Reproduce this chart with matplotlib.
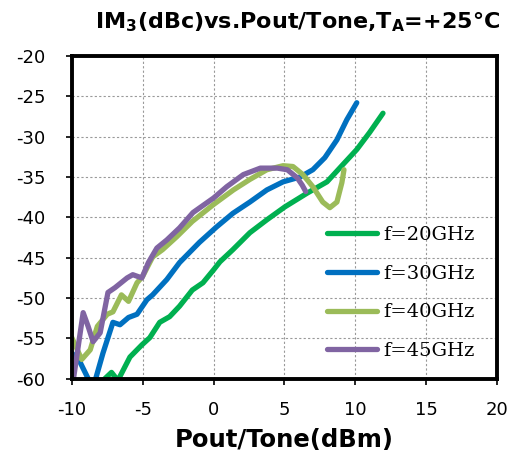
import matplotlib
matplotlib.use("Agg")
import matplotlib.pyplot as plt

plt.rcParams["axes.unicode_minus"] = False

# f = 20 GHz
x20 = [-7.8, -7.2, -6.75, -5.9, -5.06, -4.5, -3.8, -3.1, -2.4, -1.5, -0.75, 0.0, 0.45, 1.36, 2.56, 3.76, 5.03, 6.6, 8.0, 9.1, 10.1, 11.0, 11.95]
y20 = [-60.2, -59.2, -60.2, -57.3, -55.8, -54.9, -53.0, -52.3, -51.0, -49.0, -48.1, -46.5, -45.5, -44.0, -41.9, -40.3, -38.7, -37.0, -35.6, -33.5, -31.6, -29.5, -27.1]
# f = 30 GHz
x30 = [-10.0, -9.4, -8.7, -8.4, -7.8, -7.1, -6.6, -6.0, -5.4, -4.7, -4.3, -3.3, -2.4, -1.0, 0.2, 1.36, 2.56, 3.76, 4.9, 6.1, 7.0, 7.85, 8.7, 9.4, 10.1]
y30 = [-56.8, -58.0, -60.5, -60.5, -56.8, -53.0, -53.3, -52.4, -52.0, -50.2, -49.6, -47.7, -45.6, -43.1, -41.2, -39.5, -38.1, -36.6, -35.6, -35.0, -34.1, -32.6, -30.4, -27.9, -25.8]
# f = 40 GHz
x40 = [-10.0, -9.3, -8.7, -8.2, -7.5, -7.1, -6.5, -6.0, -5.4, -5.0, -4.3, -3.6, -2.6, -1.5, 0.0, 1.4, 2.56, 3.76, 4.9, 5.6, 6.3, 7.0, 7.7, 8.2, 8.7, 9.05, 9.2]
y40 = [-54.9, -57.6, -56.4, -53.5, -52.0, -51.7, -49.6, -50.4, -48.1, -47.3, -44.9, -44.0, -42.4, -40.5, -38.4, -36.6, -35.3, -34.1, -33.6, -33.7, -34.7, -36.2, -38.1, -38.8, -38.1, -35.7, -34.1]
# f = 45 GHz
x45 = [-9.9, -9.2, -8.85, -8.5, -8.0, -7.45, -6.95, -6.1, -5.7, -5.06, -4.6, -4.0, -3.3, -2.4, -1.45, 0.0, 0.93, 2.1, 3.3, 4.5, 5.2, 5.9, 6.25, 6.5]
y45 = [-60.2, -51.8, -53.5, -55.4, -54.3, -49.3, -48.7, -47.5, -47.1, -47.5, -45.6, -43.8, -42.8, -41.3, -39.4, -37.6, -36.2, -34.7, -33.9, -33.9, -34.1, -35.1, -36.0, -36.8]

labels = ["f=20GHz", "f=30GHz", "f=40GHz", "f=45GHz"]
colors = ["#00B050", "#0070C0", "#9BBB59", "#8064A2"]
xticks = [-10, -5, 0, 5, 10, 15, 20]
yticks = [-60, -55, -50, -45, -40, -35, -30, -25, -20]

fig = plt.figure(figsize=(5.13, 4.62), dpi=100)
ax = fig.add_axes([0.140, 0.180, 0.829, 0.699])

for xs, ys, c, lab in zip([x20, x30, x40, x45], [y20, y30, y40, y45], colors, labels):
    ax.plot(xs, ys, color=c, lw=3.8, label=lab, solid_joinstyle="round", solid_capstyle="round")

ax.set_xlim(-10, 20)
ax.set_ylim(-60, -20)
ax.set_xticks(xticks)
ax.set_yticks(yticks)
ax.grid(True, color="#999999", linestyle=(0, (2, 2)), linewidth=0.8)
for s in ax.spines.values():
    s.set_linewidth(2.8)
ax.tick_params(axis="y", labelsize=13, length=4, width=1.2, direction="out", pad=15)
ax.tick_params(axis="x", labelsize=13, length=4, width=1.2, direction="out", pad=12)

fig.text(298 / 513, 1 - 22 / 462, r"IM$_\mathbf{3}$(dBc)vs.Pout/Tone,T$_\mathbf{A}$=+25°C",
         fontsize=16, fontweight="bold", ha="center", va="center")
fig.text(284 / 513, 1 - 440 / 462, "Pout/Tone(dBm)", fontsize=17.5, fontweight="bold",
         ha="center", va="center")

leg = ax.legend(loc="lower right", bbox_to_anchor=(0.965, 0.034), frameon=False,
                prop={"family": "DejaVu Serif", "size": 14},
                handlelength=2.6, labelspacing=1.06, handletextpad=0.3, borderaxespad=0.0)

fig.savefig("out.png", dpi=100)
